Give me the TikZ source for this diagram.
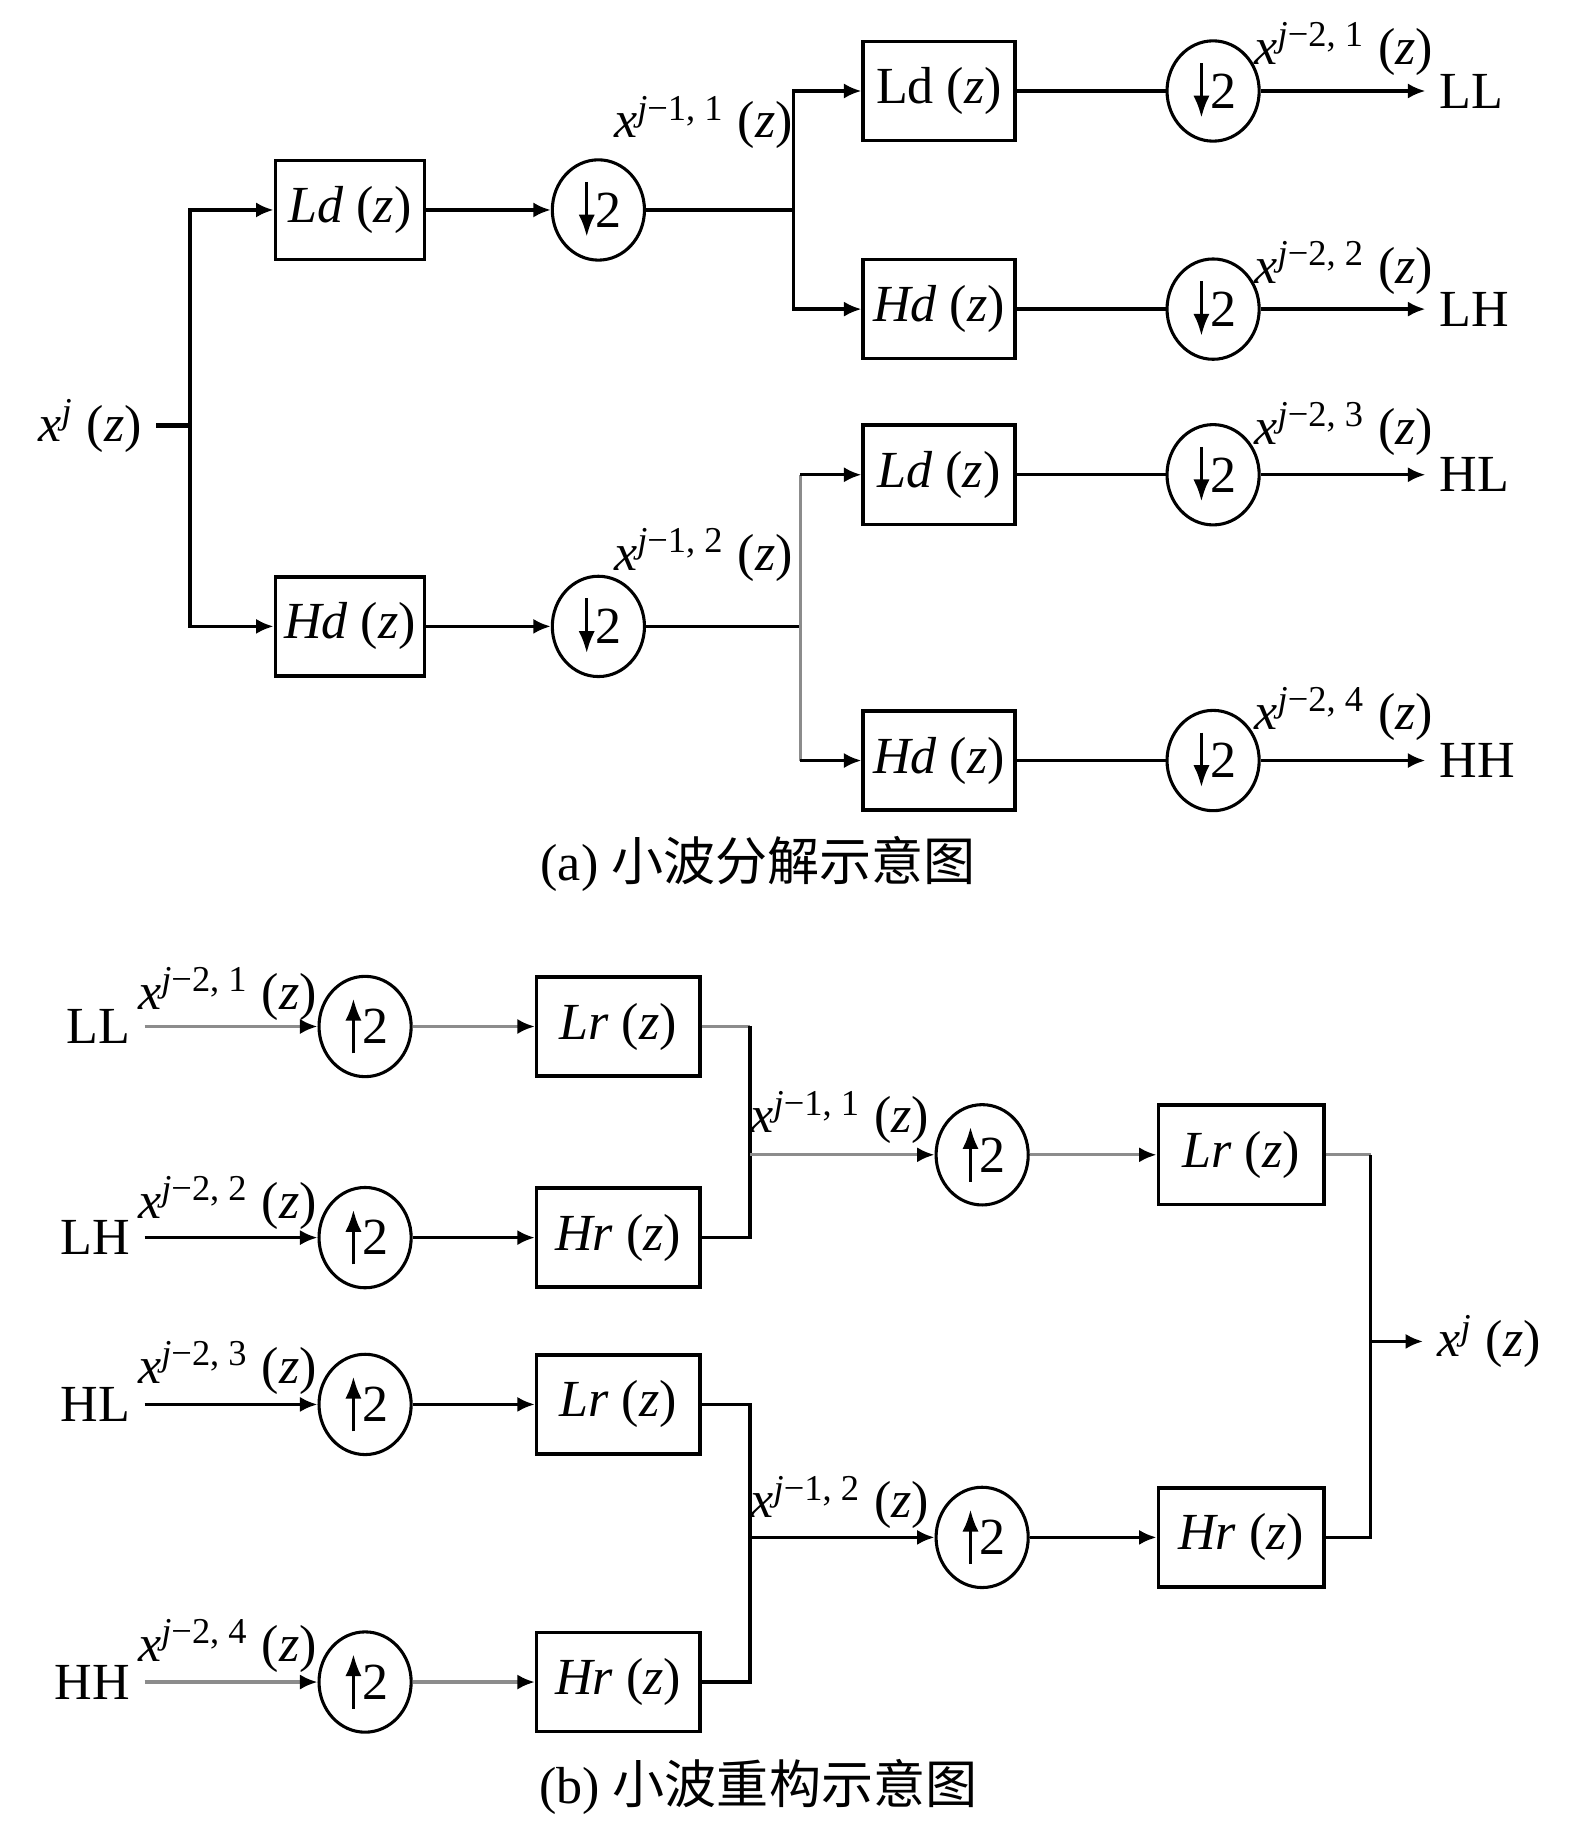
\documentclass[tikz,border=0pt]{standalone}
\usepackage{fontspec}
\setmainfont{Liberation Serif}
\newfontfamily\cjk{Noto Sans CJK SC}
\usepackage{tikz}
\usetikzlibrary{arrows.meta, positioning, shapes.geometric}
\newcommand{\sgnl}[1]{\textit{x}\textsuperscript{\textit{j}−#1}\ (\textit{z})}
\tikzset{%
	filter box/.style={
		draw,
		line width=0.85pt,
		minimum width=12.8mm,
		minimum height=8.5mm,
		inner sep=0pt
	},
	sampler/.style={
		ellipse,
		draw,
		line width=0.75pt,
		minimum width=7.9mm,
		minimum height=8.6mm,
		inner sep=0pt
	},
	down sampler/.style={
		sampler,
		path picture={\draw[line width=0.85pt, -{Latex[length=1.9mm,width=1.4mm]}]
			([shift={(-1mm,2.4mm)}]path picture bounding box.center) -- ++(0,-4.7mm);}
	},
	up sampler/.style={
		sampler,
		path picture={\draw[line width=0.85pt, -{Latex[length=1.9mm,width=1.4mm]}]
			([shift={(-1mm,-2.3mm)}]path picture bounding box.center) -- ++(0,4.7mm);}
	},
	plain wire/.style={line width=0.8pt},
	wire/.style={plain wire, -{Latex[length=1.5mm,width=1.3mm]}},
	faint line/.style={plain wire, draw=black!45},
	faint wire/.style={faint line, -{Latex[length=1.5mm,width=1.3mm,color=black]}},
}

\begin{document}
\begin{tikzpicture}[x=0.1mm, y=-0.1mm, font=\fontsize{12.7}{15}\selectfont]
	\useasboundingbox (0,0) rectangle (1350,1568);
	
	% (a) decomposition
	\node[anchor=east] (xin) at (134,365) {\textit{x}\textsuperscript{\textit{j}} (\textit{z})};
	\coordinate (ja) at (163,365);
	\node[filter box] (ld1) at (300,180) {\textit{Ld} (\textit{z})};
	\node[filter box] (hd1) at (300,537) {\textit{Hd} (\textit{z})};
	\node[down sampler] (dn1) at (513,180) {\hspace{1.8mm}2};
	\node[down sampler] (dn2) at (513,537) {\hspace{1.8mm}2};
	\node (s11) at (603,105) {\sgnl{1, 1}};
	\node (s12) at (603,476) {\sgnl{1, 2}};
	\coordinate (j1) at (680,180);
	\coordinate (j2) at (686,537);
	
	\node[filter box, minimum width=13mm] (ld2) at (805,78) {Ld (\textit{z})};
	\node[filter box, minimum width=13mm] (hd2) at (805,265) {\textit{Hd} (\textit{z})};
	\node[filter box, minimum width=13mm] (ld3) at (805,407) {\textit{Ld} (\textit{z})};
	\node[filter box, minimum width=13mm] (hd3) at (805,652) {\textit{Hd} (\textit{z})};
	\node[down sampler] (dn3) at (1040,78) {\hspace{1.8mm}2};
	\node[down sampler] (dn4) at (1040,265) {\hspace{1.8mm}2};
	\node[down sampler] (dn5) at (1040,407) {\hspace{1.8mm}2};
	\node[down sampler] (dn6) at (1040,652) {\hspace{1.8mm}2};
	\node (s21) at (1152,42) {\sgnl{2, 1}};
	\node (s22) at (1152,230) {\sgnl{2, 2}};
	\node (s23) at (1152,368) {\sgnl{2, 3}};
	\node (s24) at (1152,612) {\sgnl{2, 4}};
	\node[anchor=west] (ll) at (1222,78) {LL};
	\node[anchor=west] (lh) at (1222,265) {LH};
	\node[anchor=west] (hl) at (1222,407) {HL};
	\node[anchor=west] (hh) at (1222,652) {HH};
	
	\draw[plain wire, line width=1.2pt] (xin) -- (ja);
	\draw[wire] (ja) |- (ld1);
	\draw[wire] (ja) |- (hd1);
	\draw[wire] (ld1) -- (dn1);
	\draw[wire] (hd1) -- (dn2);
	\draw[plain wire] (dn1) -- (j1);
	\draw[wire] (j1) |- (ld2);
	\draw[wire] (j1) |- (hd2);
	\draw[plain wire] (dn2) -- (j2);
	\draw[faint line] (j2 |- ld3) -- (j2 |- hd3);
	\draw[wire] (j2 |- ld3) -- (ld3);
	\draw[wire] (j2 |- hd3) -- (hd3);
	\foreach \b/\c/\o in {ld2/dn3/ll, hd2/dn4/lh, ld3/dn5/hl, hd3/dn6/hh}
		\draw[wire] (\b) -- (\c) (\c) -- (\o);
	
	\node (capa) at (650,741) {(a) {\cjk 小波分解示意图}};
	
	% (b) reconstruction
	\node[anchor=east] (inll) at (124,880) {LL};
	\node[anchor=east] (inlh) at (124,1061) {LH};
	\node[anchor=east] (inhl) at (124,1204) {HL};
	\node[anchor=east] (inhh) at (124,1442) {HH};
	\node (r21) at (195,852) {\sgnl{2, 1}};
	\node (r22) at (195,1031) {\sgnl{2, 2}};
	\node (r23) at (195,1173) {\sgnl{2, 3}};
	\node (r24) at (195,1411) {\sgnl{2, 4}};
	\node[up sampler] (up1) at (313,880) {\hspace{1.8mm}2};
	\node[up sampler] (up2) at (313,1061) {\hspace{1.8mm}2};
	\node[up sampler] (up3) at (313,1204) {\hspace{1.8mm}2};
	\node[up sampler] (up4) at (313,1442) {\hspace{1.8mm}2};
	\node[filter box, minimum width=14mm] (lr1) at (530,880) {\textit{Lr} (\textit{z})};
	\node[filter box, minimum width=14mm] (hr1) at (530,1061) {\textit{Hr} (\textit{z})};
	\node[filter box, minimum width=14mm] (lr2) at (530,1204) {\textit{Lr} (\textit{z})};
	\node[filter box, minimum width=14mm] (hr2) at (530,1442) {\textit{Hr} (\textit{z})};
	\coordinate (k1) at (643,990);
	\coordinate (k2) at (643,1318);
	\node (r11) at (720,958) {\sgnl{1, 1}};
	\node (r12) at (720,1288) {\sgnl{1, 2}};
	\node[up sampler] (up5) at (842,990) {\hspace{1.8mm}2};
	\node[up sampler] (up6) at (842,1318) {\hspace{1.8mm}2};
	\node[filter box, minimum width=14.2mm] (lr3) at (1064,990) {\textit{Lr} (\textit{z})};
	\node[filter box, minimum width=14.2mm] (hr3) at (1064,1318) {\textit{Hr} (\textit{z})};
	\coordinate (m) at (1175,1150);
	\node[anchor=west] (xout) at (1220,1150) {\textit{x}\textsuperscript{\textit{j}} (\textit{z})};
	
	\draw[faint wire] (inll) -- (up1);
	\draw[faint wire] (up1) -- (lr1);
	\draw[wire] (inlh) -- (up2);
	\draw[wire] (up2) -- (hr1);
	\draw[wire] (inhl) -- (up3);
	\draw[wire] (up3) -- (lr2);
	\draw[faint wire] (inhh) -- (up4);
	\draw[faint wire] (up4) -- (hr2);
	\draw[faint line] (lr1) -- (lr1 -| k1);
	\draw[plain wire] (lr1 -| k1) -- (hr1 -| k1) -- (hr1);
	\draw[plain wire] (lr2) -| (k2);
	\draw[plain wire] (k2) |- (hr2);
	\draw[faint wire] (k1) -- (up5);
	\draw[faint wire] (up5) -- (lr3);
	\draw[wire] (k2) -- (up6);
	\draw[wire] (up6) -- (hr3);
	\draw[faint line] (lr3) -- (lr3 -| m);
	\draw[plain wire] (lr3 -| m) |- (hr3);
	\draw[wire] (m) -- (xout);
	
	\node (capb) at (650,1532) {(b) {\cjk 小波重构示意图}};
\end{tikzpicture}
\end{document}
